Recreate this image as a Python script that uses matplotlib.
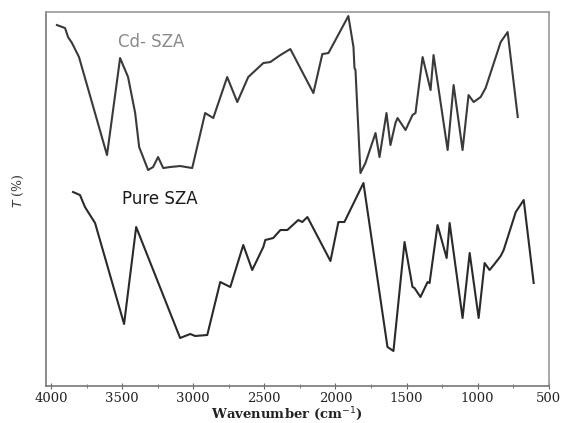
import matplotlib
matplotlib.use("Agg")
import matplotlib.pyplot as plt
from matplotlib.ticker import MultipleLocator

# FTIR spectra, wavenumber (cm-1) vs transmittance (arbitrary offset units)
cd_wn = [3958, 3901, 3880, 3852, 3803, 3606, 3514, 3458, 3408, 3380, 3317,
         3282, 3247, 3211, 3162, 3092, 3007, 2916, 2859, 2761, 2690, 2613,
         2507, 2458, 2387, 2317, 2155, 2092, 2049, 1909, 1873, 1866, 1859,
         1824, 1789, 1718, 1690, 1641, 1613, 1578, 1563, 1507, 1458, 1437,
         1387, 1331, 1310, 1211, 1169, 1106, 1064, 1028, 979, 944, 838,
         789, 718]
cd_t = [361, 358, 349, 343, 329, 231, 328, 309, 273, 239, 216,
        219, 229, 218, 219, 220, 218, 273, 268, 309, 284, 309,
        323, 324, 331, 337, 293, 332, 333, 370, 339, 318, 316,
        213, 223, 253, 229, 273, 241, 263, 268, 256, 271, 273,
        329, 296, 331, 236, 301, 236, 291, 284, 289, 298, 344,
        354, 269]

pure_wn = [3845, 3796, 3761, 3739, 3690, 3486, 3401, 3092, 3021, 2986,
           2901, 2810, 2739, 2648, 2585, 2507, 2493, 2437, 2387, 2338,
           2261, 2233, 2197, 2035, 1979, 1937, 1803, 1634, 1592, 1514,
           1458, 1444, 1402, 1352, 1338, 1282, 1218, 1197, 1106, 1056,
           993, 951, 916, 887, 838, 817, 732, 676, 606]
pure_t = [194, 191, 179, 174, 163, 62, 159, 48, 52, 50,
          51, 104, 99, 141, 116, 139, 146, 148, 156, 156,
          166, 164, 169, 125, 164, 164, 203, 39, 35, 144,
          99, 98, 89, 104, 103, 161, 128, 163, 68, 133,
          68, 123, 116, 121, 130, 136, 174, 186, 103]

fig = plt.figure(figsize=(5.63, 4.23), dpi=100)
ax = fig.add_axes([0.0817, 0.0875, 0.893, 0.884])

ax.plot(cd_wn, cd_t, color="#3a3a3a", lw=1.5)
ax.plot(pure_wn, pure_t, color="#2a2a2a", lw=1.5)

ax.text(3296, 344, "Cd- SZA", color="#8a8a8a", fontsize=12,
        family="DejaVu Sans", ha="center", va="center")
ax.text(3232, 187, "Pure SZA", color="#1a1a1a", fontsize=12,
        family="DejaVu Sans", ha="center", va="center")

ax.set_xlim(4035, 500)
ax.set_ylim(0, 374)
ax.set_yticks([])
ax.xaxis.set_major_locator(MultipleLocator(500))
ax.xaxis.set_minor_locator(MultipleLocator(250))
ax.tick_params(axis="x", which="major", direction="inout", length=4,
               color="#666666", labelsize=9.5, pad=2)
ax.tick_params(axis="x", which="minor", direction="inout", length=3,
               color="#666666")
for lab in ax.get_xticklabels():
    lab.set_family("DejaVu Serif")
    lab.set_color("#222222")

for side in ["top", "right"]:
    ax.spines[side].set_color("#999999")
for side in ["left", "bottom"]:
    ax.spines[side].set_color("#777777")
for sp in ax.spines.values():
    sp.set_linewidth(1.2)

ax.set_xlabel("Wavenumber (cm$^{-1}$)", family="DejaVu Serif",
              fontweight="bold", fontsize=9.5, color="#222222")
ax.xaxis.set_label_coords(0.479, -0.074)
ax.xaxis.label.set_va("center")
fig.text(0.032, 0.548, "$T$ (%)", rotation=90, family="DejaVu Serif",
         fontsize=9, ha="center", va="center", color="#333333")

fig.savefig("out.png", dpi=100)
